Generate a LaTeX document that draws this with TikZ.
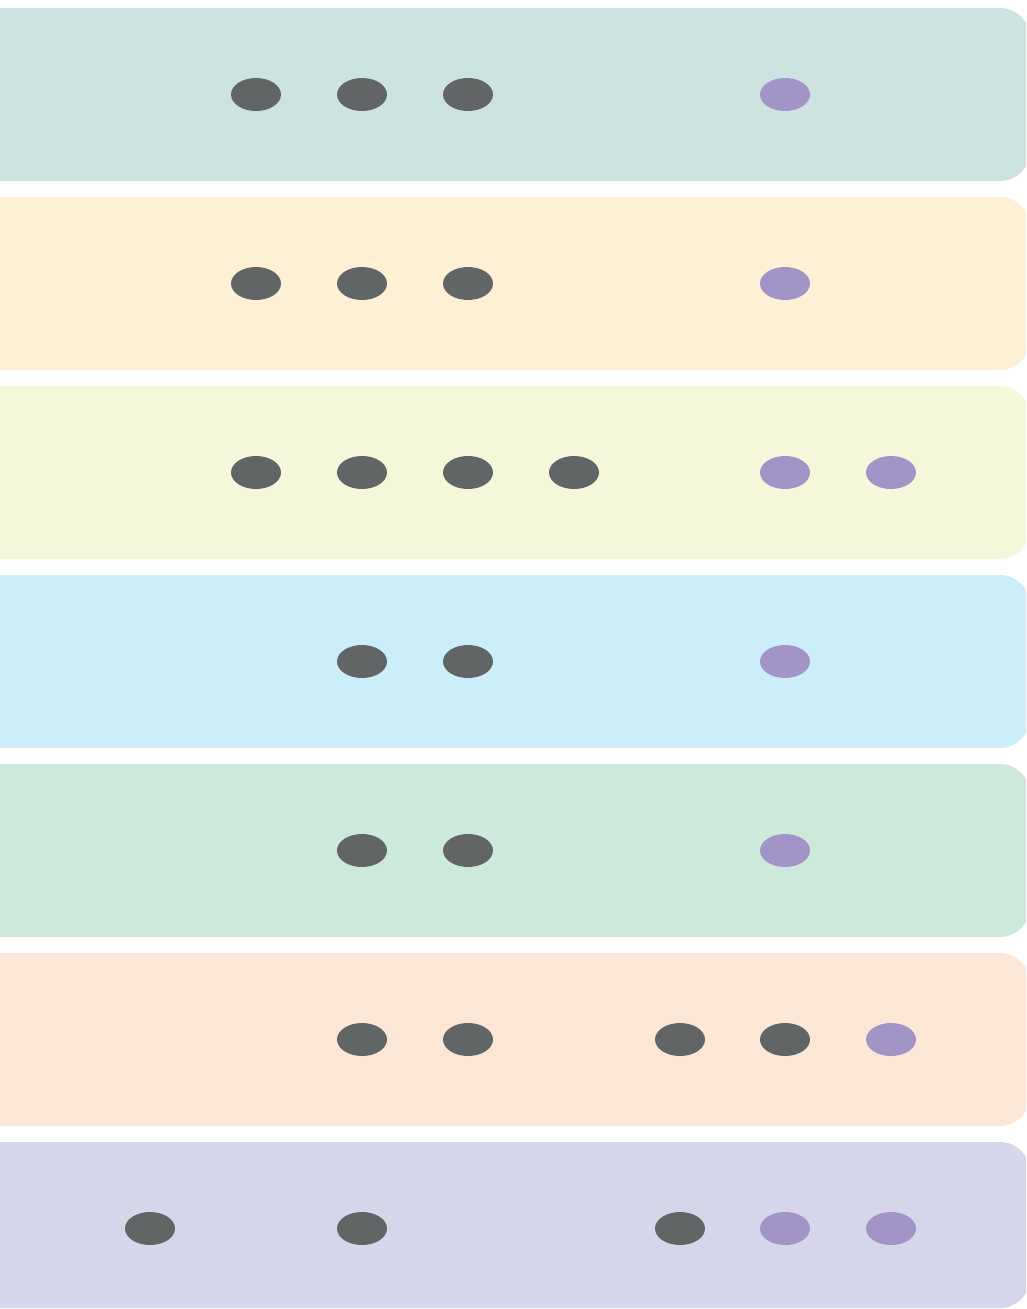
\documentclass[tikz,border=0pt]{standalone}
\usepackage{tikz}
\usepackage{xcolor}
\usetikzlibrary{shapes.geometric}
\definecolor{bandteal}{RGB}{205,227,225}
\definecolor{bandcream}{RGB}{253,240,213}
\definecolor{bandlime}{RGB}{244,247,218}
\definecolor{bandsky}{RGB}{204,238,249}
\definecolor{bandmint}{RGB}{205,233,220}
\definecolor{bandpeach}{RGB}{252,231,214}
\definecolor{bandlavender}{RGB}{213,214,234}
\definecolor{dotgray}{RGB}{97,101,101}
\definecolor{dotpurple}{RGB}{162,148,198}

\tikzset{
  band/.style={rounded corners=30pt},
  dot/.style={ellipse, fill=dotgray, minimum width=50pt, minimum height=33pt, inner sep=0pt},
  pdot/.style={dot, fill=dotpurple}
}

\begin{document}
\begin{tikzpicture}[x=1pt,y=-1pt]
            \useasboundingbox (0,0) rectangle (1026,1309);
            \clip (0,0) rectangle (1026,1309);

            % Bands
            \fill[band, bandteal] (-40,8) rectangle (1030,181);
            \fill[band, bandcream] (-40,197) rectangle (1030,370);
            \fill[band, bandlime] (-40,386) rectangle (1030,559);
            \fill[band, bandsky] (-40,575) rectangle (1030,748);
            \fill[band, bandmint] (-40,764) rectangle (1030,937);
            \fill[band, bandpeach] (-40,953) rectangle (1030,1126);
            \fill[band, bandlavender] (-40,1142) rectangle (1030,1308);

            % Row 1
            \node[dot] (r1a) at (256,94.5) {};
            \node[dot] (r1b) at (362,94.5) {};
            \node[dot] (r1c) at (468,94.5) {};
            \node[pdot] (r1p) at (785,94.5) {};

            % Row 2
            \node[dot] (r2a) at (256,283.5) {};
            \node[dot] (r2b) at (362,283.5) {};
            \node[dot] (r2c) at (468,283.5) {};
            \node[pdot] (r2p) at (785,283.5) {};

            % Row 3
            \node[dot] (r3a) at (256,472.5) {};
            \node[dot] (r3b) at (362,472.5) {};
            \node[dot] (r3c) at (468,472.5) {};
            \node[dot] (r3d) at (574,472.5) {};
            \node[pdot] (r3p) at (785,472.5) {};
            \node[pdot] (r3q) at (891,472.5) {};

            % Row 4
            \node[dot] (r4b) at (362,661.5) {};
            \node[dot] (r4c) at (468,661.5) {};
            \node[pdot] (r4p) at (785,661.5) {};

            % Row 5
            \node[dot] (r5b) at (362,850.5) {};
            \node[dot] (r5c) at (468,850.5) {};
            \node[pdot] (r5p) at (785,850.5) {};

            % Row 6
            \node[dot] (r6b) at (362,1039.5) {};
            \node[dot] (r6c) at (468,1039.5) {};
            \node[dot] (r6e) at (680,1039.5) {};
            \node[dot] (r6f) at (785,1039.5) {};
            \node[pdot] (r6q) at (891,1039.5) {};

            % Row 7
            \node[dot] (r7a) at (150,1228.5) {};
            \node[dot] (r7b) at (362,1228.5) {};
            \node[dot] (r7e) at (680,1228.5) {};
            \node[pdot] (r7p) at (785,1228.5) {};
            \node[pdot] (r7q) at (891,1228.5) {};
        \end{tikzpicture}
\end{document}
